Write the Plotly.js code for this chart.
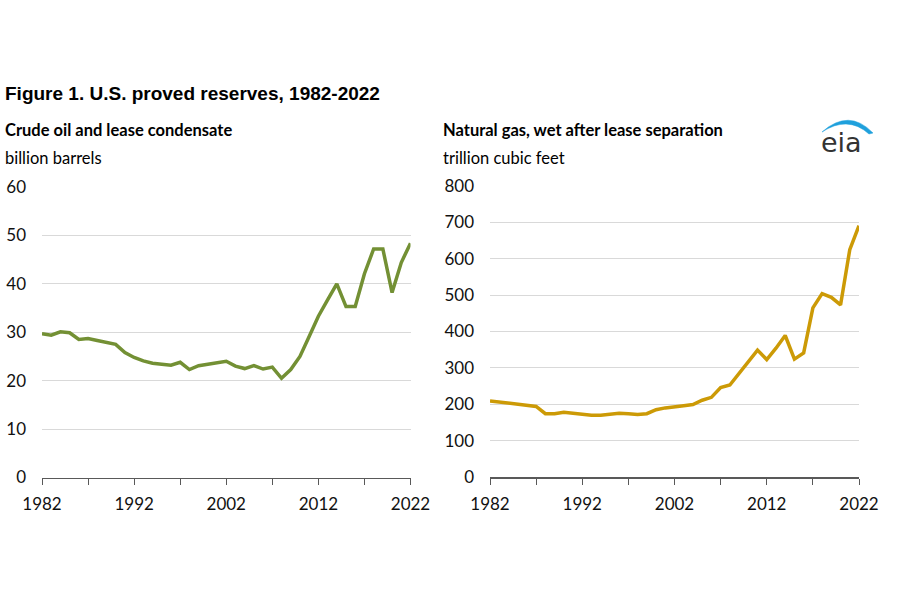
<!DOCTYPE html>
<html>
<head>
<meta charset="utf-8">
<script src="https://cdn.plot.ly/plotly-3.0.1.min.js"></script>
<style>html,body{margin:0;padding:0;background:#fff;}#chart{width:900px;height:600px;}</style>
</head>
<body>
<div id="chart"></div>
<script>
const years = [];
for (let y = 1982; y <= 2022; y++) years.push(y);

const crudeOil = [29.7, 29.4, 30.1, 29.9, 28.5, 28.7, 28.3, 27.9, 27.5, 25.8,
  24.8, 24.1, 23.6, 23.4, 23.2, 23.8, 22.3, 23.1, 23.4, 23.8,
  24.0, 23.0, 22.5, 23.1, 22.4, 22.8, 20.5, 22.3, 25.0, 29.1,
  33.3, 36.7, 40.0, 35.3, 35.3, 42.1, 47.2, 47.2, 38.2, 44.4, 48.4];

const naturalGas = [209, 206, 204, 202, 199, 194, 174, 174, 178, 175,
  172, 170, 170, 172, 175, 174, 172, 174, 185, 190,
  194, 196, 199, 211, 219, 246, 253, 284, 318, 349,
  323, 354, 389, 324, 341, 465, 504, 494, 473, 625, 691];

const xTickVals = [1982, 1987, 1992, 1997, 2002, 2007, 2012, 2017, 2022];
const xTickText = ['1982', '', '1992', '', '2002', '', '2012', '', '2022'];
const oilTicks = [0, 10, 20, 30, 40, 50, 60];
const gasTicks = [0, 100, 200, 300, 400, 500, 600, 700, 800];

const figTitle = 'Figure 1. U.S. proved reserves, 1982-2022';
const oilTitle = 'Crude oil and lease condensate';
const oilUnit = 'billion barrels';
const gasTitle = 'Natural gas, wet after lease separation';
const gasUnit = 'trillion cubic feet';
const logoText = 'eia';

const tickFont = {family: 'Lato, "Noto Sans", sans-serif', size: 17, color: '#111111'};
const gridColor = '#d9d9d9';
const axisColor = '#595959';

function xax(domain) {
  return {
    domain: domain, range: [1982, 2022], tickmode: 'array',
    tickvals: xTickVals, ticktext: xTickText,
    ticks: 'outside', ticklen: 6, tickwidth: 1, tickcolor: axisColor,
    showline: true, linecolor: axisColor, linewidth: 1.5,
    showgrid: false, zeroline: false, tickfont: tickFont,
    ticklabelstandoff: 5, fixedrange: true
  };
}
function yax(domain, range, ticks, anchor) {
  return {
    domain: domain, range: range, tickmode: 'array', tickvals: ticks,
    showgrid: true, gridcolor: gridColor, gridwidth: 1,
    zeroline: false, showline: false, ticks: '',
    tickfont: tickFont, ticklabelstandoff: 15, anchor: anchor, fixedrange: true
  };
}

const data = [
  {x: years, y: crudeOil, type: 'scatter', mode: 'lines', xaxis: 'x', yaxis: 'y',
   line: {color: '#739034', width: 3.5}, hoverinfo: 'x+y'},
  {x: years, y: naturalGas, type: 'scatter', mode: 'lines', xaxis: 'x2', yaxis: 'y2',
   line: {color: '#cc9a06', width: 3.5}, hoverinfo: 'x+y'}
];

const W = 900, H = 600;
const px = v => v / W;
const py = v => 1 - v / H;

const layout = {
  width: W, height: H,
  margin: {l: 0, r: 0, t: 0, b: 0},
  paper_bgcolor: '#ffffff', plot_bgcolor: '#ffffff',
  showlegend: false,
  xaxis: Object.assign(xax([px(42), px(410.5)]), {anchor: 'y'}),
  yaxis: yax([py(477.5), py(187)], [0, 60], oilTicks, 'x'),
  xaxis2: Object.assign(xax([px(490), px(859)]), {anchor: 'y2'}),
  yaxis2: yax([py(477), py(186)], [0, 800], gasTicks, 'x2'),
  annotations: [
    {text: '<b>' + figTitle + '</b>', xref: 'paper', yref: 'paper', x: px(3), y: py(93),
     xanchor: 'left', yanchor: 'middle', showarrow: false,
     font: {family: '"Liberation Sans Narrow", "Arial Narrow", sans-serif', size: 19, color: '#000'}},
    {text: '<b>' + oilTitle + '</b>', xref: 'paper', yref: 'paper', x: px(3), y: py(130),
     xanchor: 'left', yanchor: 'middle', showarrow: false,
     font: {family: 'Lato, sans-serif', size: 16.5, color: '#000'}},
    {text: oilUnit, xref: 'paper', yref: 'paper', x: px(3), y: py(158),
     xanchor: 'left', yanchor: 'middle', showarrow: false,
     font: {family: 'Lato, sans-serif', size: 16.5, color: '#000'}},
    {text: '<b>' + gasTitle + '</b>', xref: 'paper', yref: 'paper', x: px(441), y: py(130),
     xanchor: 'left', yanchor: 'middle', showarrow: false,
     font: {family: 'Lato, sans-serif', size: 16.5, color: '#000'}},
    {text: gasUnit, xref: 'paper', yref: 'paper', x: px(441), y: py(158),
     xanchor: 'left', yanchor: 'middle', showarrow: false,
     font: {family: 'Lato, sans-serif', size: 16.5, color: '#000'}},
    {text: logoText, xref: 'paper', yref: 'paper', x: px(841), y: py(142),
     xanchor: 'center', yanchor: 'middle', showarrow: false,
     font: {family: '"DejaVu Sans", sans-serif', size: 27, color: '#333333'}}
  ],
  shapes: [
    {type: 'path', xref: 'paper', yref: 'paper',
     path: 'M ' + px(822) + ' ' + py(132) + ' Q ' + px(849) + ' ' + py(108) + ' ' + px(873) + ' ' + py(133)
       + ' L ' + px(869) + ' ' + py(134) + ' Q ' + px(848) + ' ' + py(115) + ' ' + px(822) + ' ' + py(132) + ' Z',
     fillcolor: '#1fa0dc', line: {color: '#1fa0dc', width: 0.5}}
  ]
};

Plotly.newPlot('chart', data, layout, {displayModeBar: false, staticPlot: true});
</script>
</body>
</html>
